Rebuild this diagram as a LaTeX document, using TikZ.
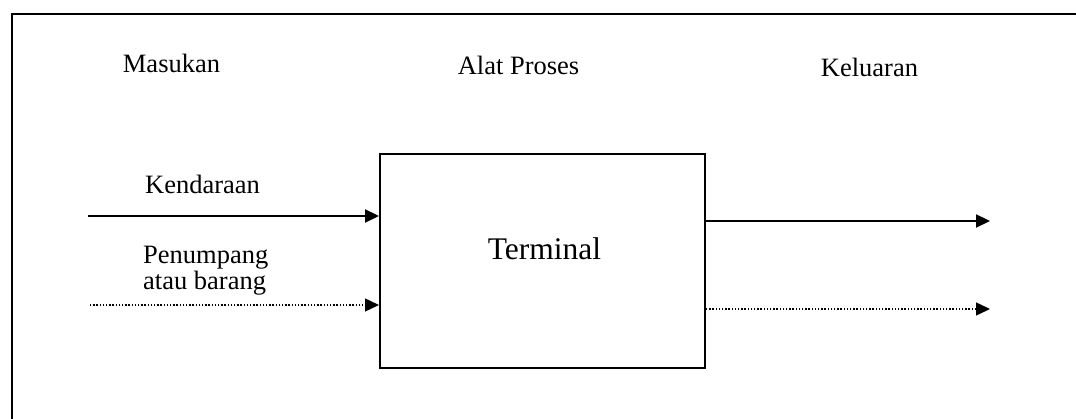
\documentclass[tikz,border=0pt]{standalone}
\usepackage{fontspec}
\setmainfont{Liberation Serif}
\usetikzlibrary{positioning, arrows.meta}
\tikzset{
    lbl/.style={font=\fontsize{26.5}{30}\selectfont, inner sep=0pt},
    proc/.style={rectangle, draw=black, line width=2pt, minimum width=325pt, minimum height=214pt},
    proclbl/.style={font=\fontsize{31.5}{36}\selectfont, inner sep=0pt},
    flow/.style={line width=2.2pt, -{Triangle[length=14pt,width=13pt]}},
    dflow/.style={line width=1.4pt, dash pattern=on 1.4pt off 1.8pt, -{Triangle[length=14pt,width=13pt]}},
}

\begin{document}
\begin{tikzpicture}[x=1pt, y=-1pt]
    \useasboundingbox (0,0) rectangle (1076,419);
    % frame
    \coordinate (fbl) at (12,419);
    \coordinate (ftl) at (12,14);
    \coordinate (ftr) at (1076,14);
    \draw[line width=2pt] (fbl) -- (ftl) -- (ftr);
    % headings
    \node [lbl, anchor=base] (in) at (171.5,73) {Masukan};
    \node [lbl, anchor=base] (proc) at (518.5,75) {Alat Proses};
    \node [lbl, anchor=base] (out) at (869.5,77) {Keluaran};
    % process box
    \node [proc] (term) at (542.5,261) {};
    \node [proclbl, anchor=base] (termtxt) at (544.5,260) {Terminal};
    % inputs
    \node [lbl, anchor=base west] (veh) at (145,194) {Kendaraan};
    \node [lbl, anchor=base west] (pax) at (143,264) {Penumpang};
    \node [lbl, anchor=base west] (paxb) at (143,290) {atau barang};
    \coordinate (inveh) at (88,216);
    \coordinate (inpax) at (90,305);
    \draw[flow] (inveh) -- (inveh -| term.west);
    \draw[dflow] (inpax) -- (inpax -| term.west);
    % outputs
    \coordinate (outveh) at (990,221);
    \coordinate (outpax) at (990,309);
    \draw[flow] (outveh -| term.east) -- (outveh);
    \draw[dflow] (outpax -| term.east) -- (outpax);
\end{tikzpicture}
\end{document}
